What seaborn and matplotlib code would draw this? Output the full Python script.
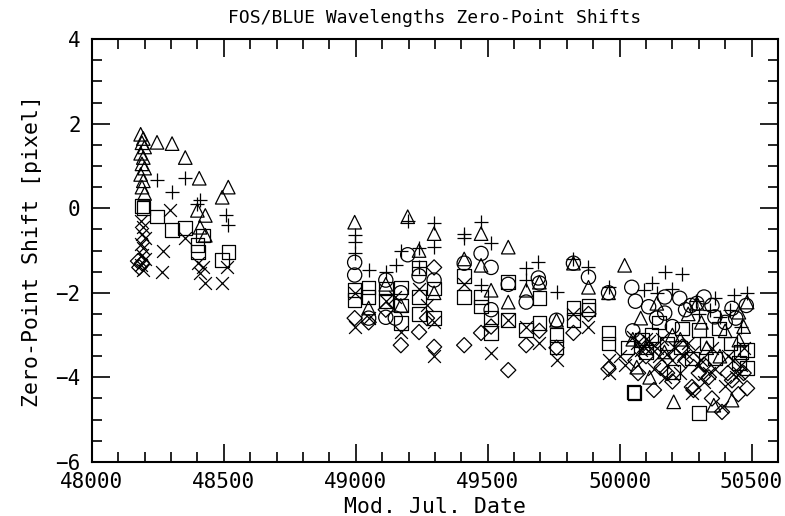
import matplotlib
matplotlib.use("Agg")
import matplotlib.pyplot as plt
import seaborn as sns
import pandas as pd
from matplotlib.ticker import MultipleLocator

# ---- data (MJD, zero-point shift in pixel), one list pair per marker series ----
tri_x = [48185, 48195, 48190, 48200, 48185, 48195, 48190, 48200, 48185, 48195, 48190, 48200,
         48247, 48304, 48354, 48407, 48517, 48494, 48400, 48430, 48410, 48430,
         48996, 49049, 49197, 49240, 49297, 49411, 49475, 49475, 49513, 49578, 49578, 49646,
         49696, 49761, 49825, 49882, 49958, 50019, 49171, 49114, 49297,
         50141, 50293, 50483, 50452, 50205, 50357, 50426, 50114, 50065, 50452, 50080, 50200,
         50330, 50400, 50260, 50380, 50050, 50170, 50100, 50230, 50310, 50470]
tri_y = [1.75, 1.65, 1.55, 1.45, 1.3, 1.2, 1.05, 0.95, 0.8, 0.65, 0.5, 0.35,
         1.56, 1.53, 1.2, 0.71, 0.5, 0.26, -0.05, -0.17, -0.45, -0.64,
         -0.33, -2.36, -0.2, -1.0, -0.6, -1.2, -0.6, -1.35, -1.94, -0.92, -2.22, -1.94,
         -1.75, -2.65, -1.3, -1.87, -2.0, -1.35, -2.3, -1.8, -2.0,
         -2.25, -2.25, -2.22, -2.46, -4.58, -4.66, -4.54, -4.0, -3.76, -3.12, -2.6, -3.0,
         -3.3, -2.9, -2.5, -3.5, -3.1, -3.4, -3.3, -3.1, -2.7, -2.8]

plus_x = [48247, 48354, 48304, 48410, 48400, 48510, 48517,
          48996, 48996, 48996, 49049, 49114, 49152, 49171, 49240, 49240, 49297, 49297,
          49411, 49411, 49475, 49475, 49513, 49646, 49646, 49692, 49761, 49825, 49882,
          49958, 49197,
          50171, 50236, 50121, 50091, 50361, 50433, 50483, 50342, 50380, 50140, 50290, 50460,
          50200, 50300, 50420]
plus_y = [0.66, 0.71, 0.38, 0.19, 0.1, -0.17, -0.4,
          -0.64, -0.8, -1.06, -1.47, -1.5, -1.35, -1.0, -0.95, -1.4, -0.36, -0.92,
          -0.6, -0.7, -0.33, -1.82, -0.83, -1.42, -1.7, -1.27, -1.98, -1.2, -1.4,
          -1.87, -0.3,
          -1.5, -1.55, -1.77, -1.94, -2.13, -2.05, -2.0, -2.4, -2.57, -2.0, -2.2, -2.8,
          -1.9, -2.5, -2.4]

cross_x = [48185, 48195, 48190, 48200, 48185, 48195, 48190, 48200, 48185, 48195,
           48297, 48270, 48266, 48354, 48403, 48410, 48430, 48494, 48513, 48420,
           48996, 48996, 49049, 49114, 49171, 49240, 49297, 49297, 49411, 49513, 49578,
           49696, 49761, 49825, 49882, 49958, 49958, 49150, 49270, 49646,
           50050, 50065, 50080, 50100, 50338, 50388, 50452, 50274, 50171, 50120, 50150,
           50200, 50230, 50260, 50300, 50320, 50360, 50400, 50430, 50470, 50130, 50020, 50000,
           50090, 50110, 50140, 50160, 50180, 50210, 50240, 50280, 50310, 50350, 50410,
           50440, 50460]
cross_y = [-0.3, -0.45, -0.6, -0.7, -0.85, -0.95, -1.1, -1.2, -1.35, -1.45,
           -0.05, -1.0, -1.5, -0.7, -1.3, -1.54, -1.77, -1.77, -1.4, -1.4,
           -2.8, -2.0, -2.6, -2.2, -2.93, -1.9, -2.7, -3.5, -1.8, -3.43, -2.65,
           -3.2, -3.6, -2.5, -2.8, -3.6, -3.9, -2.1, -2.3, -2.8,
           -3.05, -3.2, -3.36, -3.1, -3.9, -4.7, -3.9, -4.37, -4.0, -3.3, -3.5,
           -3.6, -3.9, -3.2, -3.7, -4.1, -3.8, -4.2, -3.6, -3.3, -3.8, -3.7, -3.5,
           -3.25, -3.15, -3.3, -3.1, -3.45, -3.3, -3.5, -3.4, -3.6, -3.3, -3.5,
           -4.0, -3.7]

sq_x = [48190, 48195, 48247, 48304, 48354, 48422, 48400, 48403, 48517, 48494,
        48996, 48996, 49049, 49049, 49114, 49114, 49171, 49171, 49171, 49240, 49240, 49240,
        49297, 49297, 49411, 49411, 49475, 49475, 49513, 49513, 49578, 49578, 49646,
        49696, 49696, 49761, 49761, 49825, 49825, 49882, 49882, 49958, 49958, 50053,
        50084, 50236, 50300, 50274, 50361, 50483, 50483, 50300, 50057, 50205, 50376,
        50452, 50120, 50150, 50180, 50420, 50030, 50100, 50230, 50330, 50460]
sq_y = [0.05, 0.0, -0.2, -0.52, -0.47, -0.64, -0.87, -1.04, -1.04, -1.23,
        -1.94, -2.17, -1.87, -2.1, -1.9, -2.2, -1.87, -2.3, -2.72, -1.42, -2.1, -2.5,
        -1.9, -2.6, -1.6, -2.1, -2.1, -2.33, -2.58, -2.95, -1.75, -2.65, -2.88,
        -2.12, -2.72, -3.0, -3.28, -2.36, -2.65, -2.3, -2.4, -2.95, -3.2, -4.35,
        -3.12, -2.84, -2.88, -3.55, -3.55, -3.36, -3.78, -4.85, -4.37, -3.88, -2.84,
        -3.66, -3.0, -2.7, -3.2, -3.2, -3.3, -3.4, -3.3, -3.2, -3.4]

circ_x = [48996, 48996, 49049, 49114, 49114, 49171, 49197, 49240, 49297, 49411, 49475,
          49513, 49513, 49578, 49646, 49692, 49696, 49761, 49825, 49882, 49958, 49150,
          50046, 50228, 50293, 50171, 50110, 50361, 50426, 50171, 50060, 50250, 50320,
          50400, 50480, 50050, 50200, 50140, 50270, 50350, 50440]
circ_y = [-1.28, -1.58, -2.6, -1.7, -2.58, -2.0, -1.1, -1.6, -1.7, -1.3, -1.07,
          -1.4, -2.4, -1.8, -2.22, -1.65, -1.77, -2.65, -1.3, -1.63, -2.0, -2.6,
          -1.87, -2.13, -2.25, -2.1, -2.33, -2.57, -2.37, -2.48, -2.2, -2.4, -2.1,
          -2.7, -2.3, -2.9, -2.8, -2.6, -2.3, -2.3, -2.6]

dia_x = [48175, 48180, 48190,
         48996, 49049, 49114, 49171, 49240, 49297, 49297, 49411, 49475, 49513, 49578,
         49646, 49696, 49761, 49825, 49882, 49958, 49270,
         50236, 50274, 50388, 50483, 50160, 50338, 50070, 50426, 50100, 50200, 50300,
         50350, 50450, 50130, 50250, 50060, 50180, 50280, 50320, 50410, 50470]
dia_y = [-1.25, -1.4, -1.3,
         -2.6, -2.7, -2.4, -3.24, -2.93, -1.4, -3.28, -3.24, -2.95, -2.8, -3.83,
         -3.24, -2.9, -3.3, -2.95, -2.5, -3.8, -2.6,
         -3.28, -4.23, -4.82, -4.26, -3.76, -4.0, -3.9, -4.07, -3.5, -4.1, -3.9,
         -4.5, -4.4, -4.3, -3.6, -3.6, -3.9, -4.3, -3.7, -3.9, -3.9]

x_ticks = [48000, 48500, 49000, 49500, 50000, 50500]
y_ticks = [-6, -4, -2, 0, 2, 4]

series = [
    ("tri", tri_x, tri_y, "^", True, 95),
    ("plus", plus_x, plus_y, "+", False, 110),
    ("cross", cross_x, cross_y, "x", False, 85),
    ("square", sq_x, sq_y, "s", True, 95),
    ("circle", circ_x, circ_y, "o", True, 105),
    ("diamond", dia_x, dia_y, "D", True, 60),
]

sns.set_style("white")
plt.rcParams["font.family"] = ["DejaVu Sans Mono", "DejaVu Sans"]
plt.rcParams["text.color"] = "black"
plt.rcParams["axes.labelcolor"] = "black"
plt.rcParams["xtick.color"] = "black"
plt.rcParams["ytick.color"] = "black"

fig = plt.figure(figsize=(7.85, 5.16), dpi=100)
ax = fig.add_axes([0.117, 0.105, 0.874, 0.819])

for name, xs, ys, mk, filled, size in series:
    df = pd.DataFrame({"mjd": xs, "shift": ys})
    if filled:
        sns.scatterplot(data=df, x="mjd", y="shift", marker=mk, s=size,
                        facecolors="none", edgecolor="black", linewidth=0.9, ax=ax)
    else:
        sns.scatterplot(data=df, x="mjd", y="shift", marker=mk, s=size,
                        color="black", linewidth=0.9, ax=ax)

ax.set_xlim(48000, 50600)
ax.set_ylim(-6, 4)
ax.set_xticks(x_ticks)
ax.set_yticks(y_ticks)
ax.xaxis.set_minor_locator(MultipleLocator(100))
ax.yaxis.set_minor_locator(MultipleLocator(0.5))
ax.tick_params(which="both", direction="in", top=True, right=True, bottom=True, left=True,
               color="black", width=1.2, labelsize=15, labelcolor="black")
ax.tick_params(which="major", length=13)
ax.tick_params(which="minor", length=7)
ax.tick_params(axis="x", which="major", pad=7)
ax.tick_params(axis="y", which="major", pad=8)
for sp in ax.spines.values():
    sp.set_visible(True)
    sp.set_color("black")
    sp.set_linewidth(1.5)

ax.set_xlabel("Mod. Jul. Date", fontsize=15.5, labelpad=4)
ax.set_ylabel("Zero-Point Shift [pixel]", fontsize=15.5, labelpad=10)
ax.set_title("FOS/BLUE Wavelengths Zero-Point Shifts", fontsize=13, pad=12)
ax.grid(False)

fig.savefig("out.png", dpi=100)
